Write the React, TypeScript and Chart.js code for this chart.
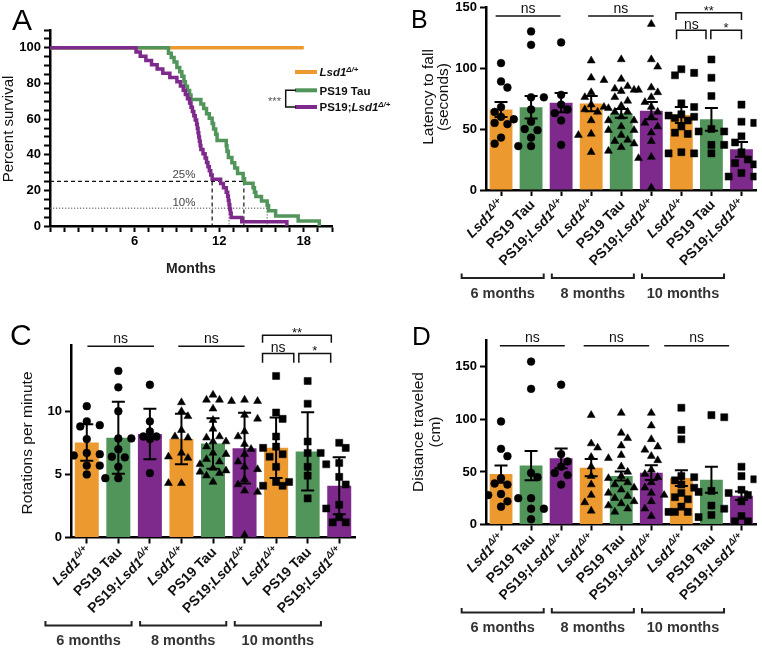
import React, { useEffect, useRef } from 'react';
import { Chart, registerables } from 'chart.js';

Chart.register(...registerables);

const FONT = '"Liberation Sans", Arial, Helvetica, sans-serif';
const ORANGE = '#EC9A30';
const GREEN = '#52955A';
const PURPLE = '#7E2A8C';

// ===== Panel A : survival (months, percent) =====
const lsdMonths = [0, 18];
const lsdSurvival = [100, 100];
const tauMonths = [0, 8.4, 8.6, 8.8, 9.0, 9.2, 9.35, 9.5, 9.6, 9.75, 9.9, 10.0, 10.7, 10.9, 11.1, 11.3, 11.5, 11.6, 11.75, 11.85, 12.5, 12.55, 12.65, 12.9, 13.1, 13.3, 13.7, 13.8, 14.4, 14.5, 14.6, 15.0, 15.4, 15.5, 16.0, 17.6, 19.1];
const tauSurvival = [100, 97, 94.5, 92, 89, 86.5, 84, 81, 78.5, 76, 73.5, 71, 68.5, 66, 63, 60.5, 57.5, 54.5, 51.5, 48, 45, 42, 38.5, 35.5, 32.5, 29.5, 26.5, 24, 21.5, 19, 16.5, 14, 11.5, 8.5, 5.6, 2.8, 0];
const doubleMonths = [0, 6.1, 6.4, 6.8, 7.2, 7.6, 8.0, 8.5, 9.0, 9.25, 9.45, 9.6, 9.75, 9.9, 10.0, 10.1, 10.2, 10.3, 10.4, 10.45, 10.5, 10.55, 10.6, 10.65, 10.7, 10.85, 11.0, 11.1, 11.2, 11.3, 11.4, 11.5, 12.1, 12.3, 12.5, 12.6, 12.65, 12.7, 12.75, 12.8, 12.85, 13.6, 16.8];
const doubleSurvival = [100, 97.6, 95.2, 92.9, 90.5, 88.1, 85.7, 83.3, 81.0, 78.6, 76.2, 73.8, 71.4, 69.0, 66.7, 64.3, 61.9, 59.5, 57.1, 54.8, 52.4, 50.0, 47.6, 45.2, 42.9, 40.5, 38.1, 35.7, 33.3, 31.0, 28.6, 26.2, 23.8, 21.4, 19.0, 16.7, 14.3, 11.9, 9.5, 7.1, 4.8, 2.4, 0];
const monthTickLabels = [6, 12, 18];
const percentTickLabels = [0, 20, 40, 60, 80, 100];
const survival25Months = [11.5, 13.75];
const survival10Months = [12.7, 15.4];
const survivalSeriesNames = ['Lsd1Δ/+', 'PS19 Tau', 'PS19;Lsd1Δ/+'];

// ===== Panels B-D : shared categories =====
const groupNames = ['6 months', '8 months', '10 months'];
const genotypeNames = ['Lsd1Δ/+', 'PS19 Tau', 'PS19;Lsd1Δ/+'];

// Panel B : latency to fall (seconds), mean ± SEM
const latencyMean = [66, 67.8, 71.6, 70.8, 62.8, 65, 61.5, 57.9, 33.3];
const latencyErr = [6.2, 9.2, 7.9, 6.2, 3.6, 7.1, 6.5, 9.3, 6.0];
const latencyPoints = [
  [104, 89, 84, 68, 64, 60, 58, 55, 54, 43, 38],
  [130, 119, 76, 76, 66, 56, 50, 49, 43, 36, 36],
  [121, 78, 70, 66, 63, 57, 37],
  [106, 92, 90, 80, 76, 70, 68, 66, 64, 57, 46, 45, 31],
  [107, 91, 85, 83, 82, 81, 76, 73, 69, 67, 64, 64, 60, 57, 57, 52, 49, 49, 45, 41, 40, 38, 35, 32],
  [136, 107, 101, 84, 82, 80, 76, 72, 68, 64, 60, 55, 52, 47, 40, 27, 26, 2],
  [99, 96, 94, 71, 68, 62, 61, 60, 59, 57, 52, 47, 46, 31, 30, 30],
  [107, 92, 77, 50, 48, 48, 37, 37, 30],
  [70, 56, 55, 44, 39, 31, 25, 22, 21, 14, 11, 11],
];

// Panel C : rotations per minute, mean ± SD
const rotationMean = [7.53, 7.9, 8.19, 7.8, 7.45, 7.08, 7.11, 6.82, 4.1];
const rotationErr = [1.45, 2.85, 2.0, 2.0, 2.0, 2.8, 2.4, 3.1, 2.25];
const rotationPoints = [
  [10.4, 9.2, 8.9, 8.8, 7.8, 6.7, 6.6, 6.5, 5.7, 5.7, 5.0],
  [13.2, 11.9, 10.0, 7.85, 7.85, 7.0, 6.4, 6.35, 5.6, 4.7, 4.7],
  [12.1, 9.2, 8.4, 8.0, 8.0, 7.8, 5.1],
  [10.7, 10.0, 9.6, 8.5, 8.0, 7.9, 6.7, 6.4, 6.3, 4.3, 4.3],
  [11.3, 10.9, 10.9, 10.2, 9.3, 8.6, 8.0, 7.9, 7.6, 7.6, 7.2, 6.7, 6.6, 6.2, 6.0, 5.8, 5.5, 5.3, 5.2, 5.1, 4.9, 4.4],
  [10.9, 10.8, 10.8, 9.7, 9.4, 8.4, 8.0, 7.4, 7.0, 6.6, 6.0, 5.6, 5.4, 4.6, 4.2, 3.7, 3.6, 0.2],
  [12.8, 9.9, 9.4, 8.0, 7.2, 7.1, 6.6, 6.4, 5.6, 4.4, 4.4, 4.1, 4.1],
  [12.4, 10.6, 7.6, 6.7, 6.7, 5.6, 4.9, 3.1],
  [7.5, 7.1, 5.9, 5.8, 4.8, 4.2, 2.6, 2.3, 1.6, 1.2, 1.2],
];

// Panel D : distance traveled (cm), mean ± SEM
const distanceMean = [48, 56, 62.9, 54, 46.1, 49.3, 44.2, 42.6, 27.4];
const distanceErr = [8.2, 14, 9.5, 8.2, 4.2, 7.0, 7.5, 12.4, 4.0];
const distancePoints = [
  [98, 72, 65, 44, 39, 38, 29, 28, 22, 17],
  [155, 129, 49, 45, 25, 25, 15, 15, 5],
  [133, 67, 60, 55, 49, 47, 38],
  [104, 77, 73, 64, 55, 46, 38, 28, 21, 13],
  [106, 87, 82, 75, 66, 63, 55, 50, 46, 44, 40, 38, 35, 33, 30, 27, 25, 22, 20, 18, 15, 12],
  [106, 94, 81, 74, 71, 65, 61, 52, 48, 45, 40, 35, 30, 28, 22, 15, 8],
  [111, 90, 81, 46, 45, 42, 38, 35, 30, 26, 24, 17, 12, 12, 12],
  [104, 102, 32, 31, 18, 15, 9, 7],
  [55, 46, 43, 33, 30, 28, 22, 8, 3, 3],
];

// ---------------- helpers ----------------
type Run = { t: string; it?: boolean; sup?: boolean };

function richRuns(name: string): Run[] {
  const i = name.indexOf('Lsd1');
  if (i < 0) return [{ t: name }];
  const runs: Run[] = [];
  if (i > 0) runs.push({ t: name.slice(0, i) });
  runs.push({ t: 'Lsd1', it: true });
  const rest = name.slice(i + 4);
  if (rest) runs.push({ t: rest, it: true, sup: true });
  return runs;
}

function drawRich(ctx: CanvasRenderingContext2D, runs: Run[], x: number, y: number, size: number, weight: string, align: 'left' | 'right' | 'center') {
  const items = runs.map((r) => {
    const s = r.sup ? size * 0.68 : size;
    const font = `${r.it ? 'italic ' : ''}${weight} ${s}px ${FONT}`;
    ctx.font = font;
    return { r, font, w: ctx.measureText(r.t).width, dy: r.sup ? -size * 0.42 : 0 };
  });
  const total = items.reduce((a, b) => a + b.w, 0);
  let cx = align === 'left' ? x : align === 'right' ? x - total : x - total / 2;
  ctx.textAlign = 'left';
  ctx.textBaseline = 'alphabetic';
  for (const it of items) {
    ctx.font = it.font;
    ctx.fillText(it.r.t, cx, y + it.dy);
    cx += it.w;
  }
}

function centeredText(ctx: CanvasRenderingContext2D, text: string, x: number, cy: number) {
  const m = ctx.measureText(text);
  ctx.textAlign = 'center';
  ctx.textBaseline = 'alphabetic';
  ctx.fillText(text, x, cy + (m.actualBoundingBoxAscent - m.actualBoundingBoxDescent) / 2);
}

function swarmOffsets(vals: number[], pxPerUnit: number, diam: number, step: number, maxK: number): number[] {
  const order = vals.map((_, i) => i).sort((a, b) => vals[b] - vals[a]);
  const placed: { x: number; y: number }[] = [];
  const out = new Array(vals.length).fill(0);
  let flip = 1;
  for (const i of order) {
    const ks = [0];
    for (let k = 1; k <= maxK; k++) ks.push(k * flip, -k * flip);
    const y = vals[i] * pxPerUnit;
    let best = 0;
    let bestD = -1;
    for (const k of ks) {
      const x = k * step;
      let minD = Infinity;
      for (const p of placed) minD = Math.min(minD, Math.hypot(p.x - x, p.y - y));
      if (minD >= diam) { best = x; break; }
      if (minD > bestD) { bestD = minD; best = x; }
    }
    if (best !== 0) flip = -flip;
    placed.push({ x: best, y });
    out[i] = best;
  }
  return out;
}

function verticalText(ctx: CanvasRenderingContext2D, text: string, x: number, y: number, font: string) {
  ctx.save();
  ctx.translate(x, y);
  ctx.rotate(-Math.PI / 2);
  ctx.font = font;
  ctx.textAlign = 'center';
  ctx.textBaseline = 'middle';
  ctx.fillStyle = '#111';
  ctx.fillText(text, 0, 0);
  ctx.restore();
}

const axisGrid = { display: true, drawOnChartArea: false, drawTicks: true, tickLength: 6, tickWidth: 2, tickColor: '#000' };
const axisBorder = { display: true, width: 2.5, color: '#000' };
const tickFont = { family: FONT, size: 13, weight: 'bold' as const };

// ---------------- Panel A ----------------
function buildSurvival(): any {
  const W = 400, H = 320;
  const area = { left: 50, top: 30, right: 332, bottom: 226 };
  const xy = (xs: number[], ys: number[]) => xs.map((x, i) => ({ x, y: ys[i] }));
  const plugin = {
    id: 'survivalDecor',
    beforeDatasetsDraw(chart: any) {
      const ctx: CanvasRenderingContext2D = chart.ctx;
      const xs = chart.scales.x, ys = chart.scales.y;
      const x0 = xs.getPixelForValue(0);
      const y0 = ys.getPixelForValue(0);
      ctx.save();
      const y25 = ys.getPixelForValue(25);
      ctx.setLineDash([4, 3]);
      ctx.lineWidth = 1.2;
      ctx.strokeStyle = '#111';
      ctx.beginPath();
      ctx.moveTo(x0, y25);
      ctx.lineTo(xs.getPixelForValue(Math.max(...survival25Months)), y25);
      survival25Months.forEach((m) => { const x = xs.getPixelForValue(m); ctx.moveTo(x, y25); ctx.lineTo(x, y0); });
      ctx.stroke();
      const y10 = ys.getPixelForValue(10);
      ctx.setLineDash([1.3, 1.7]);
      ctx.lineWidth = 1;
      ctx.strokeStyle = '#555';
      ctx.beginPath();
      ctx.moveTo(x0, y10);
      ctx.lineTo(xs.getPixelForValue(Math.max(...survival10Months)), y10);
      survival10Months.forEach((m) => { const x = xs.getPixelForValue(m); ctx.moveTo(x, y10); ctx.lineTo(x, y0); });
      ctx.stroke();
      ctx.setLineDash([]);
      ctx.fillStyle = '#444';
      ctx.font = `11.5px ${FONT}`;
      centeredText(ctx, '25%', xs.getPixelForValue(9.5), y25 - 7);
      centeredText(ctx, '10%', xs.getPixelForValue(9.5), y10 - 6);
      ctx.restore();
    },
    afterDraw(chart: any) {
      const ctx: CanvasRenderingContext2D = chart.ctx;
      ctx.save();
      const colors = [ORANGE, GREEN, PURPLE];
      const ly = [72, 90.3, 107];
      survivalSeriesNames.forEach((n, i) => {
        ctx.strokeStyle = colors[i];
        ctx.lineWidth = 4;
        ctx.beginPath();
        ctx.moveTo(295, ly[i]);
        ctx.lineTo(317, ly[i]);
        ctx.stroke();
        ctx.fillStyle = '#111';
        drawRich(ctx, richRuns(n), 319.5, ly[i] + 4.4, 11.5, 'bold', 'left');
      });
      ctx.strokeStyle = '#111';
      ctx.lineWidth = 1.5;
      ctx.beginPath();
      ctx.moveTo(296, ly[1]);
      ctx.lineTo(285.7, ly[1]);
      ctx.lineTo(285.7, ly[2]);
      ctx.lineTo(296, ly[2]);
      ctx.stroke();
      ctx.fillStyle = '#555';
      ctx.font = `11px ${FONT}`;
      centeredText(ctx, '***', 274.5, 99.3);
      verticalText(ctx, 'Percent survival', 9, 129, `15px ${FONT}`);
      ctx.fillStyle = '#222';
      ctx.font = `bold 14px ${FONT}`;
      ctx.textAlign = 'center';
      ctx.textBaseline = 'alphabetic';
      ctx.fillText('Months', 191, 273);
      ctx.fillStyle = '#000';
      ctx.font = `30px ${FONT}`;
      ctx.textAlign = 'left';
      ctx.fillText('A', 12, 30);
      ctx.restore();
    },
  };
  const line = (data: any, color: string) => ({ data, borderColor: color, borderWidth: 3.5, stepped: 'before', pointRadius: 0, fill: false, borderCapStyle: 'butt' });
  return {
    type: 'line',
    data: {
      datasets: [
        line(xy(doubleMonths, doubleSurvival), PURPLE),
        line(xy(tauMonths, tauSurvival), GREEN),
        line(xy(lsdMonths, lsdSurvival), ORANGE),
      ],
    },
    options: {
      responsive: false,
      animation: false,
      layout: { padding: { left: 0, top: area.top, right: W - area.right, bottom: 0 } },
      plugins: { legend: { display: false }, tooltip: { enabled: false } },
      scales: {
        x: {
          type: 'linear', min: 0, max: 20, offset: false,
          grid: axisGrid, border: axisBorder,
          ticks: { stepSize: 1, autoSkip: false, maxRotation: 0, padding: 2, color: '#000', font: tickFont, callback: (v: any) => (monthTickLabels.includes(v) ? String(v) : '') },
          afterFit: (s: any) => { s.height = H - area.bottom; s.paddingLeft = 0; s.paddingRight = 0; },
        },
        y: {
          type: 'linear', min: 0, max: 110,
          grid: axisGrid, border: axisBorder,
          ticks: { stepSize: 5, autoSkip: false, padding: 3, color: '#000', font: tickFont, callback: (v: any) => (percentTickLabels.includes(v) ? String(v) : '') },
          afterFit: (s: any) => { s.width = area.left; s.paddingTop = 0; s.paddingBottom = 0; },
        },
      },
    },
    plugins: [plugin],
  };
}

// ---------------- Bar panels ----------------
type Sig = { x1: number; x2: number; y: number; leg: number; label: string; gap: number };
type BarSpec = {
  W: number; H: number;
  area: { left: number; top: number; right: number; bottom: number };
  means: number[]; errs: number[]; points: number[][];
  yMax: number; yStep: number;
  titles: string[]; titleX: number[]; titleY: number;
  letter: string; letterX: number; letterY: number; letterSize: number;
  sig: Sig[];
};

const SHAPES = ['circle', 'triangle', 'rect'];
const RADIUS: Record<string, number> = { circle: 3.9, triangle: 4.6, rect: 5 };
const BAR_COLORS = [ORANGE, GREEN, PURPLE, ORANGE, GREEN, PURPLE, ORANGE, GREEN, PURPLE];
const categoryLabels = groupNames.flatMap((g) => genotypeNames.map((n) => `${g} ${n}`));

function barConfig(p: BarSpec): any {
  const { area, W, H } = p;
  const catPx = (area.right - area.left) / 9;
  const ppu = (area.bottom - area.top) / p.yMax;
  const scatter: { x: number; y: number }[] = [];
  const styles: string[] = [];
  const radii: number[] = [];
  p.points.forEach((vals, i) => {
    const shape = SHAPES[Math.floor(i / 3)];
    const offs = swarmOffsets(vals, ppu, 7.6, 6.5, 2);
    vals.forEach((v, j) => {
      scatter.push({ x: i + offs[j] / catPx, y: v });
      styles.push(shape);
      radii.push(RADIUS[shape]);
    });
  });
  const catPixel = (chart: any) => {
    const cat = chart.scales.x;
    const p0 = cat.getPixelForValue(0);
    const step = cat.getPixelForValue(1) - p0;
    return (v: number) => p0 + v * step;
  };
  const plugin = {
    id: 'barDecor',
    afterDatasetDraw(chart: any, args: any) {
      if (args.index !== 0) return;
      const ctx: CanvasRenderingContext2D = chart.ctx;
      const ys = chart.scales.y;
      const px = catPixel(chart);
      ctx.save();
      ctx.strokeStyle = '#000';
      ctx.lineWidth = 2;
      p.means.forEach((m, i) => {
        const x = px(i);
        const yt = ys.getPixelForValue(m + p.errs[i]);
        const yb = ys.getPixelForValue(Math.max(0, m - p.errs[i]));
        ctx.beginPath();
        ctx.moveTo(x, yt); ctx.lineTo(x, yb);
        ctx.moveTo(x - 6.5, yt); ctx.lineTo(x + 6.5, yt);
        ctx.moveTo(x - 6.5, yb); ctx.lineTo(x + 6.5, yb);
        ctx.stroke();
      });
      ctx.restore();
    },
    afterDraw(chart: any) {
      const ctx: CanvasRenderingContext2D = chart.ctx;
      const ys = chart.scales.y;
      const px = catPixel(chart);
      const bottom = chart.chartArea.bottom;
      ctx.save();
      ctx.strokeStyle = '#111';
      ctx.fillStyle = '#111';
      ctx.lineWidth = 1.5;
      for (const s of p.sig) {
        const x1 = px(s.x1);
        const x2 = px(s.x2);
        const yy = ys.getPixelForValue(s.y);
        ctx.beginPath();
        ctx.moveTo(x1, yy + s.leg);
        ctx.lineTo(x1, yy);
        ctx.lineTo(x2, yy);
        ctx.lineTo(x2, yy + s.leg);
        ctx.stroke();
        ctx.font = s.label.includes('*') ? `13px ${FONT}` : `14px ${FONT}`;
        centeredText(ctx, s.label, (x1 + x2) / 2, yy - s.gap);
      }
      ctx.fillStyle = '#111';
      for (let i = 0; i < 9; i++) {
        const x = px(i);
        ctx.save();
        ctx.translate(x + 1, bottom + 12);
        ctx.rotate(-Math.PI / 4);
        drawRich(ctx, richRuns(genotypeNames[i % 3]), 0, 4.8, 14, 'bold', 'right');
        ctx.restore();
      }
      ctx.strokeStyle = '#222';
      ctx.lineWidth = 2;
      const by = bottom + 88;
      groupNames.forEach((g, gi) => {
        const xa = px(gi * 3 - 1.31);
        const xb = px(gi * 3 + 2 - 0.58);
        ctx.beginPath();
        ctx.moveTo(xa, by - 4.5); ctx.lineTo(xa, by); ctx.lineTo(xb, by); ctx.lineTo(xb, by - 4.5);
        ctx.stroke();
        ctx.fillStyle = '#333';
        ctx.font = `bold 14.5px ${FONT}`;
        ctx.textAlign = 'center';
        ctx.textBaseline = 'alphabetic';
        ctx.fillText(g, (xa + xb) / 2, by + 19.5);
      });
      p.titles.forEach((t, i) => verticalText(ctx, t, p.titleX[i], p.titleY, `15.5px ${FONT}`));
      ctx.fillStyle = '#000';
      ctx.font = `${p.letterSize}px ${FONT}`;
      ctx.textAlign = 'left';
      ctx.textBaseline = 'alphabetic';
      ctx.fillText(p.letter, p.letterX, p.letterY);
      ctx.restore();
    },
  };
  return {
    type: 'bar',
    data: {
      labels: categoryLabels,
      datasets: [
        { type: 'bar', data: p.means, backgroundColor: BAR_COLORS, borderWidth: 0, barPercentage: 0.76, categoryPercentage: 1, grouped: false, order: 2 },
        {
          type: 'scatter', data: scatter, xAxisID: 'x2', yAxisID: 'y',
          pointStyle: styles, pointRadius: radii,
          pointBackgroundColor: '#000', pointBorderColor: '#000', pointBorderWidth: 0.5, order: 1,
        },
      ],
    },
    options: {
      responsive: false,
      animation: false,
      layout: { padding: { left: 0, top: area.top, right: W - area.right, bottom: 0 } },
      plugins: { legend: { display: false }, tooltip: { enabled: false } },
      scales: {
        x: {
          type: 'category', offset: true,
          grid: { ...axisGrid, offset: false }, border: axisBorder,
          ticks: { display: false },
          afterFit: (s: any) => { s.height = H - area.bottom; s.paddingLeft = 0; s.paddingRight = 0; },
        },
        x2: { type: 'linear', display: false, offset: false, grace: 0, bounds: 'data', min: -0.5, max: 8.5, grid: { offset: false } },
        y: {
          type: 'linear', min: 0, max: p.yMax,
          grid: axisGrid, border: axisBorder,
          ticks: { stepSize: p.yStep, autoSkip: false, padding: 3, color: '#000', font: tickFont },
          afterBuildTicks: (s: any) => {
            s.ticks = s.ticks.filter((t: any) => Math.abs(t.value / p.yStep - Math.round(t.value / p.yStep)) < 1e-6);
          },
          afterFit: (s: any) => { s.width = area.left; s.paddingTop = 0; s.paddingBottom = 0; },
        },
      },
    },
    plugins: [plugin],
  };
}

const latencySpec: BarSpec = {
  W: 381, H: 320,
  area: { left: 105, top: 7, right: 380, bottom: 190 },
  means: latencyMean, errs: latencyErr, points: latencyPoints,
  yMax: 150, yStep: 50,
  titles: ['Latency to fall', '(seconds)'], titleX: [47.5, 63], titleY: 97,
  letter: 'B', letterX: 30, letterY: 28, letterSize: 25,
  sig: [
    { x1: -0.18, x2: 1.98, y: 142.6, leg: 0, label: 'ns', gap: 7.5 },
    { x1: 2.9, x2: 5.08, y: 142.6, leg: 0, label: 'ns', gap: 7.5 },
    { x1: 5.82, x2: 8.0, y: 145.3, leg: 7.3, label: '**', gap: 4.5 },
    { x1: 5.84, x2: 6.82, y: 131, leg: 9, label: 'ns', gap: 5 },
    { x1: 6.98, x2: 8.0, y: 131, leg: 9, label: '*', gap: 5 },
  ],
};

const rotationSpec: BarSpec = {
  W: 381, H: 330,
  area: { left: 71, top: 25, right: 355, bottom: 217.5 },
  means: rotationMean, errs: rotationErr, points: rotationPoints,
  yMax: 15.25, yStep: 5,
  titles: ['Rotations per minute'], titleX: [28], titleY: 123,
  letter: 'C', letterX: 10, letterY: 25, letterSize: 30,
  sig: [
    { x1: 0.02, x2: 2.13, y: 15.16, leg: 0, label: 'ns', gap: 7.5 },
    { x1: 2.9, x2: 5.0, y: 15.16, leg: 0, label: 'ns', gap: 7.5 },
    { x1: 5.57, x2: 7.75, y: 16.03, leg: 7.7, label: '**', gap: 4.5 },
    { x1: 5.57, x2: 6.56, y: 14.58, leg: 9.3, label: 'ns', gap: 5 },
    { x1: 6.72, x2: 7.73, y: 14.58, leg: 9.3, label: '*', gap: 5 },
  ],
};

const distanceSpec: BarSpec = {
  W: 381, H: 330,
  area: { left: 105, top: 20.5, right: 379, bottom: 204.5 },
  means: distanceMean, errs: distanceErr, points: distancePoints,
  yMax: 175, yStep: 50,
  titles: ['Distance traveled', '(cm)'], titleX: [37.5, 55], titleY: 112,
  letter: 'D', letterX: 31, letterY: 25, letterSize: 26,
  sig: [
    { x1: -0.04, x2: 2.12, y: 170, leg: 0, label: 'ns', gap: 8 },
    { x1: 2.75, x2: 4.93, y: 170, leg: 0, label: 'ns', gap: 8 },
    { x1: 5.43, x2: 7.59, y: 170, leg: 0, label: 'ns', gap: 8 },
  ],
};

function ChartBox({ left, top, width, height, build }: { left: number; top: number; width: number; height: number; build: () => any }) {
  const ref = useRef<HTMLCanvasElement>(null);
  useEffect(() => {
    if (!ref.current) return;
    const chart = new Chart(ref.current, build());
    return () => chart.destroy();
  }, []);
  return (
    <div style={{ position: 'absolute', left, top, width, height }}>
      <canvas ref={ref} width={width} height={height} style={{ width, height, display: 'block' }} />
    </div>
  );
}

export default function App() {
  return (
    <div style={{ position: 'absolute', left: 0, top: 0, width: 762, height: 650, background: '#fff', overflow: 'hidden' }}>
      <ChartBox left={381} top={0} width={381} height={320} build={() => barConfig(latencySpec)} />
      <ChartBox left={0} top={0} width={400} height={320} build={buildSurvival} />
      <ChartBox left={0} top={320} width={381} height={330} build={() => barConfig(rotationSpec)} />
      <ChartBox left={381} top={320} width={381} height={330} build={() => barConfig(distanceSpec)} />
    </div>
  );
}
